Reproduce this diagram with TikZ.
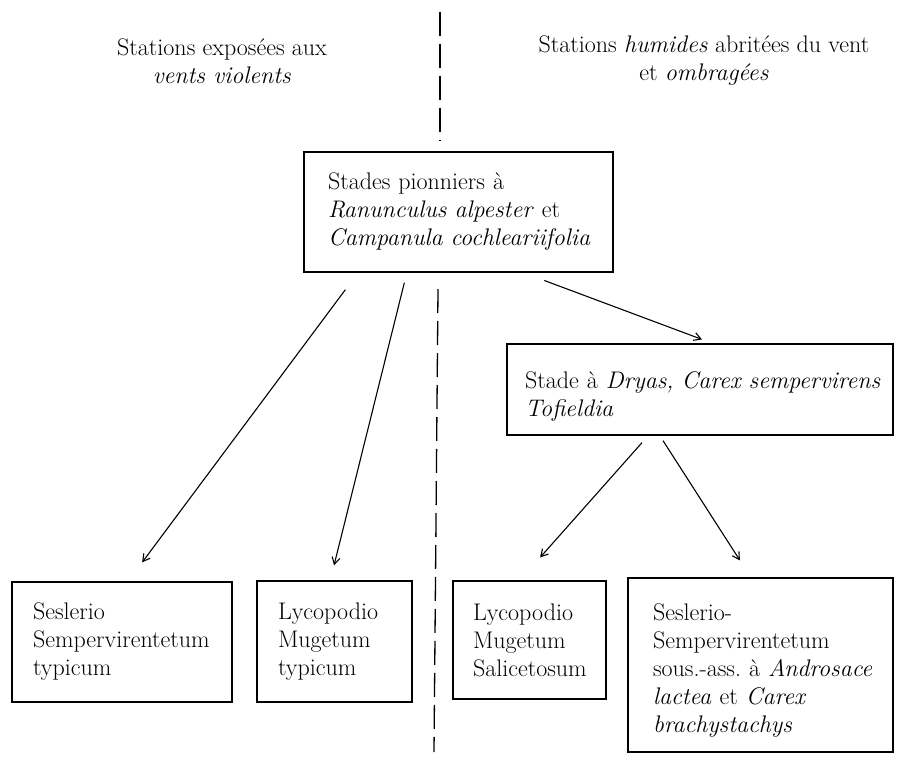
\documentclass[tikz,border=0pt]{standalone}
\usetikzlibrary{arrows.meta,calc}
\begin{document}
\begin{tikzpicture}[x=1pt,y=-1pt,
  txt/.style={font=\fontsize{24}{28}\selectfont},
  box/.style={txt,draw,line width=1.3pt,inner sep=0pt,align=left},
  arr/.style={line width=1.1pt,-{Straight Barb[length=7pt,width=8pt,line width=1.1pt]}},
  divider/.style={line width=1.3pt,dash pattern=on 24pt off 8pt},
  execute at begin node={\hyphenpenalty=10000\exhyphenpenalty=10000\relax}]
\useasboundingbox[fill=white] (0,0) rectangle (899,757);

% headers
\node[txt,align=center] (hl) at (222,61) {Stations exposées aux\\\textit{vents violents}};
\node[txt,align=center] (hr) at (704,61) {Stations \textit{humides} abritées du vent\\et \textit{ombragées}};

% boxes
\node[box,minimum width=309pt,minimum height=120pt,text width=261pt] (top) at (458.5,212)
  {Stades pionniers à\\\textit{Ranunculus~alpester}~et\\\textit{Campanula~cochleariifolia}};
\node[box,minimum width=386pt,minimum height=91pt,text width=350pt] (dryas) at (700,389.5)
  {\rule{0pt}{31pt}Stade~à~\textit{Dryas,~Carex~sempervirens}\\\textit{Tofieldia}};
\node[box,minimum width=220pt,minimum height=120pt,text width=178pt] (s1) at (122,642)
  {Seslerio\\Sempervirentetum\\typicum};
\node[box,minimum width=155pt,minimum height=121pt,text width=113pt] (s2) at (334.5,641.5)
  {Lycopodio\\Mugetum\\typicum};
\node[box,minimum width=153pt,minimum height=118pt,text width=113pt] (s3) at (529.5,640)
  {Lycopodio\\Mugetum\\Salicetosum};
\node[box,minimum width=265pt,minimum height=174pt,text width=215pt] (s4) at (760.5,665)
  {\rule{0pt}{28pt}Seslerio-\\Sempervirentetum\\sous.-ass.~à~\textit{Androsace}\\\textit{lactea}~et~\textit{Carex}\\\textit{brachystachys}};

% dividing line
\coordinate (d1) at (440,12);
\coordinate (d2) at (440,141);
\coordinate (d3) at (438,289);
\coordinate (d4) at (434,752);
\draw[divider] (d1) -- (d2);
\draw[divider] (d3) -- (d4);

% arrows
\draw[arr,shorten <=21.2pt,shorten >=23.7pt] ([xshift=54.7pt]top.south west) -- ([xshift=6pt]s1.north);
\draw[arr,shorten <=10.3pt,shorten >=15.5pt] ([xshift=103.5pt]top.south west) -- ([xshift=-4.2pt]s2.north);
\draw[arr,shorten <=22.4pt,shorten >=11.2pt] ([xshift=220pt]top.south west) -- ([xshift=12.5pt]dryas.north);
\draw[arr,shorten <=9.3pt,shorten >=30.6pt] ([xshift=-51.8pt]dryas.south) -- ([xshift=-9.7pt]s3.north);
\draw[arr,shorten <=5.9pt,shorten >=20.1pt] ([xshift=-40.2pt]dryas.south) -- ([xshift=-9.7pt]s4.north);
\end{tikzpicture}
\end{document}
